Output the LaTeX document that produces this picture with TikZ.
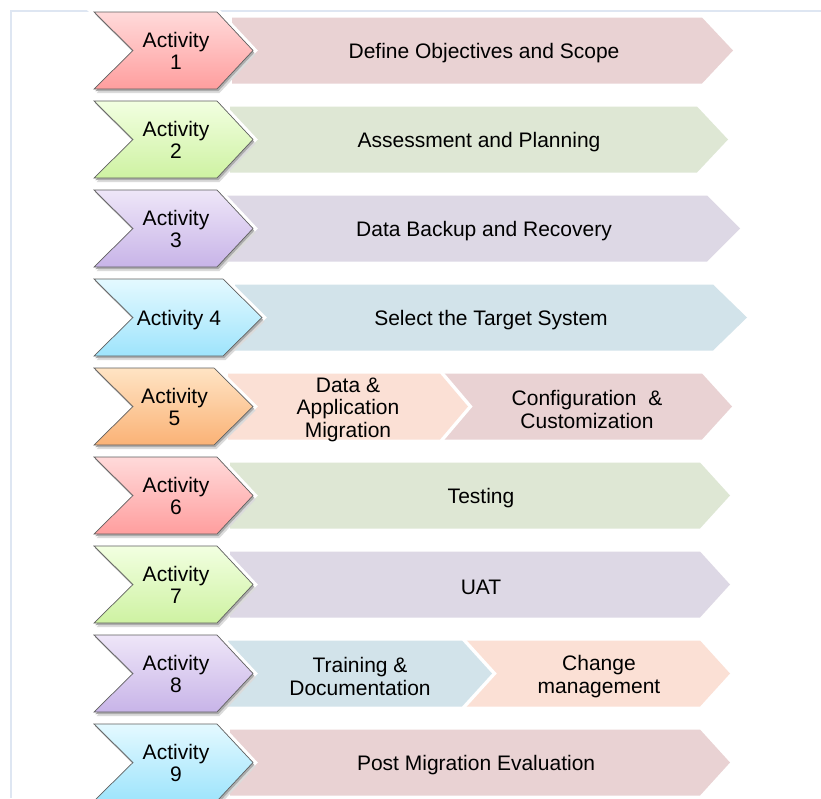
\documentclass[tikz,border=0pt]{standalone}
\usepackage{fontspec}
\setmainfont{Liberation Sans}

\definecolor{redA}{RGB}{255,218,218}
\definecolor{redB}{RGB}{255,158,158}
\definecolor{greenA}{RGB}{242,255,225}
\definecolor{greenB}{RGB}{206,242,162}
\definecolor{purpA}{RGB}{238,230,248}
\definecolor{purpB}{RGB}{200,180,232}
\definecolor{cyanA}{RGB}{228,249,255}
\definecolor{cyanB}{RGB}{158,228,252}
\definecolor{orangeA}{RGB}{255,228,196}
\definecolor{orangeB}{RGB}{250,178,118}
\definecolor{barPink}{RGB}{233,210,211}
\definecolor{barGreen}{RGB}{222,231,212}
\definecolor{barPurp}{RGB}{221,216,229}
\definecolor{barBlue}{RGB}{210,227,234}
\definecolor{barPeach}{RGB}{251,224,213}
\definecolor{frameBlue}{RGB}{222,230,242}

\tikzset{
  chev/.style={draw=gray!75!black, line width=0.7pt},
  chevshadow/.style={fill=black!14},
  chevshadowdark/.style={fill=black!32},
  halo/.style={draw=white, line width=7pt},
  labeltext/.style={font=\fontsize{21}{22.5}\selectfont, align=center, inner sep=0pt}
}

% activity chevron: row, right x, tip x, top colour, bottom colour, text, text offset
\newcommand{\activity}[7]{
  \pgfmathsetmacro{\ytop}{12+89*(#1-1)}
  \pgfmathsetmacro{\ybot}{\ytop+77}
  \pgfmathsetmacro{\ymid}{\ytop+38.5}
  \pgfmathsetmacro{\xc}{(133+#2)/2+1}
  \draw[halo] (94,\ytop) -- (#2,\ytop) -- (#3,\ymid) -- (#2,\ybot) -- (94,\ybot) -- (133,\ymid) -- cycle;
  \fill[chevshadow, shift={(2.5,4)}] (94,\ytop) -- (#2,\ytop) -- (#3,\ymid) -- (#2,\ybot) -- (94,\ybot) -- (133,\ymid) -- cycle;
  \fill[chevshadowdark, shift={(1.2,2.2)}] (94,\ytop) -- (#2,\ytop) -- (#3,\ymid) -- (#2,\ybot) -- (94,\ybot) -- (133,\ymid) -- cycle;
  \shade[chev, top color=#4, bottom color=#5] (94,\ytop) -- (#2,\ytop) -- (#3,\ymid) -- (#2,\ybot) -- (94,\ybot) -- (133,\ymid) -- cycle;
  \node[labeltext] (act#1) at (\xc,\ymid+#7) {#6};
}

\begin{document}
\begin{tikzpicture}[x=1pt, y=-1pt]

\useasboundingbox (0,0) rectangle (821,798);

% frame
\draw[frameBlue, line width=2pt] (11,798) -- (11,11) -- (821,11);

% bars (right part of each row)
\foreach \row/\bl/\be/\bt/\col/\tx/\txt in {
  1/232/702/733/barPink/484/{Define Objectives and Scope},
  2/230/697/728/barGreen/479/{Assessment and Planning},
  3/227/707/740/barPurp/484/{Data Backup and Recovery},
  4/235/713/747/barBlue/491/{Select the Target System},
  5/442/702/732/barPink/587/{Configuration \ \&\\Customization},
  5/228/440/468/barPeach/348/{Data \&\\Application\\Migration},
  6/230/700/730/barGreen/481/{Testing},
  7/230/700/730/barPurp/481/{UAT},
  8/465/700/730/barPeach/599/{Change\\management},
  8/228/462/492/barBlue/360/{Training \&\\Documentation},
  9/230/700/730/barPink/479/{Post Migration Evaluation}
}
{
  \pgfmathsetmacro{\ytop}{12+89*(\row-1)+5.5}
  \pgfmathsetmacro{\ybot}{\ytop+66}
  \pgfmathsetmacro{\ymid}{\ytop+33}
  \draw[halo] (\bl,\ytop) -- (\be,\ytop) -- (\bt,\ymid) -- (\be,\ybot) -- (\bl,\ybot) -- cycle;
  \fill[\col] (\bl,\ytop) -- (\be,\ytop) -- (\bt,\ymid) -- (\be,\ybot) -- (\bl,\ybot) -- cycle;
  \node[labeltext] (bar\row-\bl) at (\tx,\ymid+3) {\txt};
}

% activity chevrons
\activity{1}{217}{253}{redA}{redB}{Activity\\1}{0.5}
\activity{2}{217}{253}{greenA}{greenB}{Activity\\2}{0.5}
\activity{3}{217}{253}{purpA}{purpB}{Activity\\3}{0.5}
\activity{4}{223}{262}{cyanA}{cyanB}{Activity 4}{3}
\activity{5}{214}{253}{orangeA}{orangeB}{Activity\\5}{0.5}
\activity{6}{217}{253}{redA}{redB}{Activity\\6}{0.5}
\activity{7}{217}{253}{greenA}{greenB}{Activity\\7}{0.5}
\activity{8}{217}{253}{purpA}{purpB}{Activity\\8}{0.5}
\activity{9}{217}{253}{cyanA}{cyanB}{Activity\\9}{0.5}

\end{tikzpicture}
\end{document}
